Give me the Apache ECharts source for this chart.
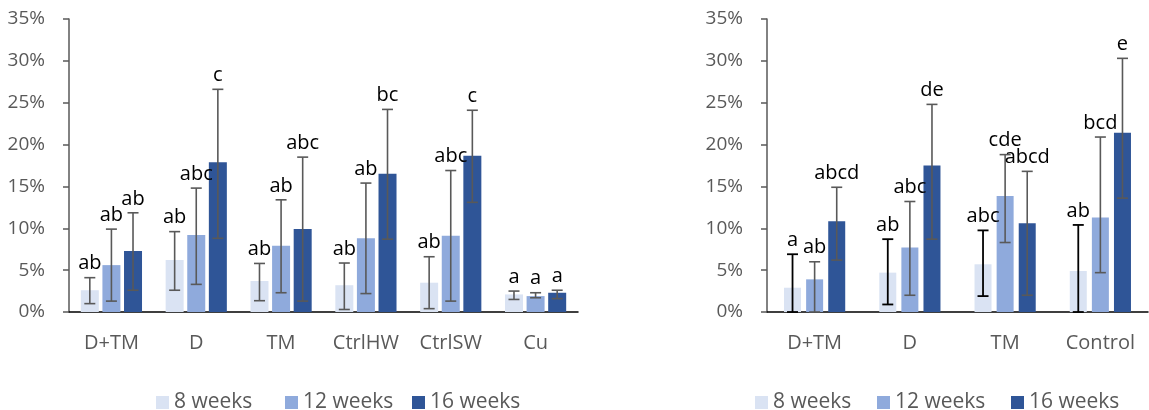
<!DOCTYPE html>
<html>
<head>
<meta charset="utf-8">
<script src="https://cdn.jsdelivr.net/npm/echarts@6/dist/echarts.min.js"></script>
<style>
  html, body { margin: 0; padding: 0; background: #fff; }
  #chart { width: 1149px; height: 410px; }
</style>
</head>
<body>
<div id="chart"></div>
<script>
// left panel
var leftCats = ['D+TM', 'D', 'TM', 'CtrlHW', 'CtrlSW', 'Cu'];
var left8 = [2.6, 6.2, 3.7, 3.2, 3.5, 2.1];
var left12 = [5.6, 9.2, 7.9, 8.8, 9.1, 1.9];
var left16 = [7.3, 17.9, 9.9, 16.5, 18.65, 2.3];
// error bars [low, high]
var left8Err = [[1.0, 4.1], [2.6, 9.6], [1.35, 5.8], [0.3, 5.85], [0.4, 6.6], [1.5, 2.5]];
var left12Err = [[1.3, 9.9], [3.3, 14.8], [2.3, 13.4], [2.2, 15.4], [1.3, 16.9], [1.7, 2.3]];
var left16Err = [[2.6, 11.85], [8.8, 26.6], [1.3, 18.5], [8.7, 24.2], [13.1, 24.1], [1.6, 2.6]];
var left8Sig = ['ab', 'ab', 'ab', 'ab', 'ab', 'a'];
var left12Sig = ['ab', 'abc', 'ab', 'ab', 'abc', 'a'];
var left16Sig = ['ab', 'c', 'abc', 'bc', 'c', 'a'];

// right panel
var rightCats = ['D+TM', 'D', 'TM', 'Control'];
var right8 = [2.9, 4.7, 5.7, 4.9];
var right12 = [3.9, 7.7, 13.85, 11.3];
var right16 = [10.85, 17.5, 10.6, 21.4];
var right8Err = [[0, 6.9], [0.9, 8.7], [1.9, 9.75], [0, 10.4]];
var right12Err = [[0, 6.0], [2.0, 13.2], [8.3, 18.8], [4.7, 20.9]];
var right16Err = [[6.2, 14.9], [8.7, 24.8], [2.0, 16.8], [13.6, 30.3]];
var right8Sig = ['a', 'ab', 'abc', 'ab'];
var right12Sig = ['ab', 'abc', 'cde', 'bcd'];
var right16Sig = ['abcd', 'de', 'abcd', 'e'];

var weeks = ['8 weeks', '12 weeks', '16 weeks'];
var colors = ['#DAE3F3', '#8FAADC', '#2F5597'];
var FONT = 'Open Sans';

function errSeries(name, axis, errs, sigs, offset, color, lw) {
  return {
    name: name,
    type: 'custom',
    xAxisIndex: axis,
    yAxisIndex: axis,
    z: 5,
    clip: false,
    silent: true,
    encode: { x: 0, y: [1, 2] },
    data: errs.map(function (e, i) { return [i, e[0], e[1]]; }),
    renderItem: function (params, api) {
      var i = api.value(0);
      var lo = api.coord([i, api.value(1)]);
      var hi = api.coord([i, api.value(2)]);
      var x = lo[0] + offset;
      var cap = 5.5;
      var st = { stroke: color, lineWidth: lw };
      return {
        type: 'group',
        children: [
          { type: 'line', shape: { x1: x, y1: lo[1], x2: x, y2: hi[1] }, style: st },
          { type: 'line', shape: { x1: x - cap, y1: hi[1], x2: x + cap, y2: hi[1] }, style: st },
          { type: 'line', shape: { x1: x - cap, y1: lo[1], x2: x + cap, y2: lo[1] }, style: st },
          {
            type: 'text',
            style: {
              x: x, y: hi[1] - 4,
              text: sigs[params.dataIndex],
              fill: '#000',
              font: '20px "' + FONT + '"',
              textAlign: 'center',
              textVerticalAlign: 'bottom'
            }
          }
        ]
      };
    }
  };
}

function barSeries(k, axis, data, width, gap) {
  return {
    name: weeks[k],
    type: 'bar',
    xAxisIndex: axis,
    yAxisIndex: axis,
    barWidth: width,
    barGap: gap,
    itemStyle: { color: colors[k] },
    data: data
  };
}

function xAxisOf(cats, idx) {
  return {
    type: 'category',
    gridIndex: idx,
    data: cats,
    axisLine: { lineStyle: { color: '#000', width: 1.5 } },
    axisTick: { show: false },
    axisLabel: { interval: 0, color: '#595959', fontSize: 20, fontFamily: FONT, margin: 21 }
  };
}

function yAxisOf(idx) {
  return {
    type: 'value',
    gridIndex: idx,
    min: 0, max: 35, interval: 5,
    splitLine: { show: false },
    axisLine: { show: true, lineStyle: { color: '#595959', width: 1.5 } },
    axisTick: { show: true, length: 6, lineStyle: { color: '#595959', width: 1.5 } },
    axisLabel: { color: '#595959', fontSize: 19, fontFamily: FONT, margin: 24, formatter: '{value}%' }
  };
}

// one legend per item so the slots sit where the reference puts them
function legendItem(k, left) {
  return {
    data: [weeks[k]],
    left: left,
    top: 387,
    itemWidth: 13,
    itemHeight: 13,
    icon: 'rect',
    textStyle: { color: '#595959', fontSize: 21, fontFamily: FONT }
  };
}

var LW = 18, LG = '20%', LOFF = 21.6;
var RW = 17, RG = '30%', ROFF = 22.1;

var chart = echarts.init(document.getElementById('chart'));
chart.setOption({
  animation: false,
  legend: [
    legendItem(0, 151), legendItem(1, 280), legendItem(2, 407),
    legendItem(0, 750), legendItem(1, 872), legendItem(2, 1006)
  ],
  grid: [
    { left: 69, right: 571, top: 19, bottom: 98 },
    { left: 767, right: 1, top: 19, bottom: 98 }
  ],
  xAxis: [xAxisOf(leftCats, 0), xAxisOf(rightCats, 1)],
  yAxis: [yAxisOf(0), yAxisOf(1)],
  series: [
    barSeries(0, 0, left8, LW, LG),
    barSeries(1, 0, left12, LW, LG),
    barSeries(2, 0, left16, LW, LG),
    errSeries('e8L', 0, left8Err, left8Sig, -LOFF, '#595959', 1.6),
    errSeries('e12L', 0, left12Err, left12Sig, 0, '#595959', 1.6),
    errSeries('e16L', 0, left16Err, left16Sig, LOFF, '#595959', 1.6),
    barSeries(0, 1, right8, RW, RG),
    barSeries(1, 1, right12, RW, RG),
    barSeries(2, 1, right16, RW, RG),
    errSeries('e8R', 1, right8Err, right8Sig, -ROFF, '#000', 1.8),
    errSeries('e12R', 1, right12Err, right12Sig, 0, '#595959', 1.6),
    errSeries('e16R', 1, right16Err, right16Sig, ROFF, '#595959', 1.6)
  ]
});
</script>
</body>
</html>
